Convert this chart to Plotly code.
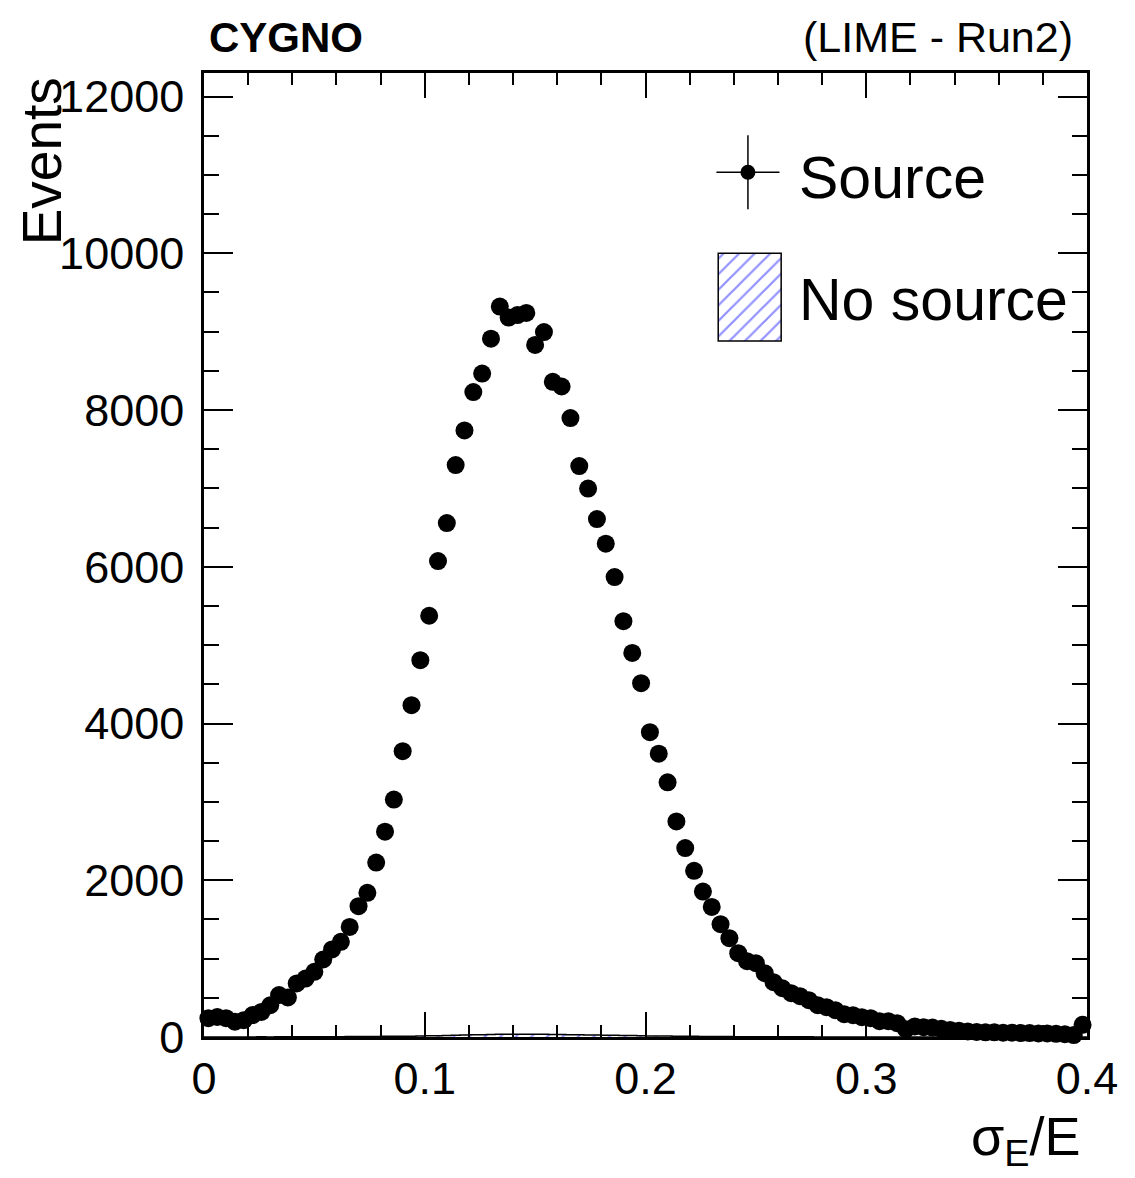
import numpy as np
import plotly.graph_objects as go

# ---------------- data ----------------
X_MIN, X_MAX, N_BINS = 0.0, 0.4, 100

source_counts = [
    240, 255, 240, 195, 215, 280, 320, 405, 535, 505,
    683, 746, 831, 989, 1117, 1214, 1405, 1669, 1839, 2225,
    2620, 3030, 3647, 4234, 4808, 5375, 6072, 6557, 7297, 7740,
    8229, 8465, 8910, 9320, 9180, 9212, 9238, 8830, 8995, 8360,
    8300, 7897, 7284, 6998, 6608, 6295, 5868, 5306, 4900, 4514,
    3889, 3615, 3250, 2750, 2411, 2120, 1855, 1659, 1440, 1261,
    1070, 967, 942, 814, 699, 622, 559, 521, 470, 406,
    380, 342, 291, 278, 253, 240, 202, 202, 176, 100,
    135, 125, 120, 105, 90, 80, 70, 65, 60, 60,
    55, 55, 50, 50, 45, 45, 40, 35, 25, 155,
]

nosource_counts = [
    0, 1, 0, 1, 1, 1, 2, 1, 2, 2,
    3, 2, 3, 3, 4, 4, 5, 5, 6, 7,
    8, 9, 10, 11, 13, 15, 17, 19, 22, 25,
    28, 30, 32, 34, 35, 36, 35, 36, 34, 33,
    31, 30, 28, 26, 25, 23, 21, 19, 18, 16,
    14, 13, 12, 10, 9, 8, 7, 6, 5, 5,
    4, 4, 3, 3, 3, 2, 2, 2, 2, 1,
    1, 1, 1, 1, 1, 1, 0, 1, 0, 0,
    0, 0, 0, 0, 0, 0, 0, 0, 0, 0,
    0, 0, 0, 0, 0, 0, 0, 0, 0, 0,
]

x_tick_vals = [0, 0.1, 0.2, 0.3, 0.4]
x_tick_text = ["0", "0.1", "0.2", "0.3", "0.4"]
y_tick_vals = [0, 2000, 4000, 6000, 8000, 10000, 12000]
y_tick_text = ["0", "2000", "4000", "6000", "8000", "10000", "12000"]

legend_labels = ["Source", "No source"]
title_left = "CYGNO"
title_right = "(LIME - Run2)"
x_title = "σ<sub>E</sub>/E"
y_title = "Events"

# ---------------- derived ----------------
bw = (X_MAX - X_MIN) / N_BINS
edges = np.linspace(X_MIN, X_MAX, N_BINS + 1)
centers = 0.5 * (edges[:-1] + edges[1:])
src = np.array(source_counts, dtype=float)
nos = np.array(nosource_counts, dtype=float)

FONT = "Liberation Sans, Arial, Helvetica, sans-serif"
HATCH = "#2020ff"

fig = go.Figure()

# No-source histogram (hatched)
fig.add_trace(go.Scatter(
    x=edges, y=np.append(nos, nos[-1]),
    mode="lines", line=dict(color="black", width=1.5, shape="hv"),
    fill="tozeroy",
    fillpattern=dict(shape="/", fgcolor=HATCH, bgcolor="white", size=11, solidity=0.2),
    fillcolor="white",
    showlegend=False, hoverinfo="skip",
))

# Source data points
fig.add_trace(go.Scatter(
    x=centers, y=src, mode="markers",
    marker=dict(color="black", size=18, line=dict(width=0)),
    error_y=dict(type="data", array=np.sqrt(src), width=0, thickness=1.5, color="black"),
    error_x=dict(type="constant", value=bw / 2, width=0, thickness=1.5, color="black"),
    cliponaxis=False, showlegend=False,
))

# ---- hand-drawn legend on an overlay axis (fractions of plot area) ----
fig.add_trace(go.Scatter(
    x=[0.616], y=[0.897], mode="markers", xaxis="x2", yaxis="y2",
    marker=dict(color="black", size=15),
    error_x=dict(type="data", array=[0.0357], width=0, thickness=1.5, color="black"),
    error_y=dict(type="data", array=[0.0384], width=0, thickness=1.5, color="black"),
    showlegend=False, hoverinfo="skip", cliponaxis=False,
))
fig.add_trace(go.Bar(
    x=[0.618], y=[0.091], base=[0.722], width=[0.0713], xaxis="x2", yaxis="y2",
    marker=dict(color="white",
                pattern=dict(shape="/", fgcolor=HATCH, bgcolor="white", size=11, solidity=0.2),
                line=dict(color="black", width=1.5)),
    showlegend=False, hoverinfo="skip",
))

ann = []
ann.append(dict(text=legend_labels[0], x=0.6716, y=0.891, xref="paper", yref="paper",
                xanchor="left", yanchor="middle", showarrow=False,
                font=dict(family=FONT, size=59, color="black")))
ann.append(dict(text=legend_labels[1], x=0.6716, y=0.7645, xref="paper", yref="paper",
                xanchor="left", yanchor="middle", showarrow=False,
                font=dict(family=FONT, size=59, color="black")))
ann.append(dict(text="<b>" + title_left + "</b>", x=0.0034, y=1.037, xref="paper", yref="paper",
                xanchor="left", yanchor="middle", showarrow=False,
                font=dict(family=FONT, size=42, color="black")))
ann.append(dict(text=title_right, x=0.986, y=1.037, xref="paper", yref="paper",
                xanchor="right", yanchor="middle", showarrow=False,
                font=dict(family=FONT, size=43, color="black")))
ann.append(dict(text=x_title, x=0.9955, y=-0.107, xref="paper", yref="paper",
                xanchor="right", yanchor="middle", showarrow=False,
                font=dict(family=FONT, size=54, color="black")))
ann.append(dict(text=y_title, x=-0.183, y=0.998, xref="paper", yref="paper",
                xanchor="center", yanchor="top", textangle=-90, showarrow=False,
                font=dict(family=FONT, size=55, color="black")))

axis_common = dict(
    showgrid=False, zeroline=False, showline=True, linecolor="black", linewidth=2.5,
    mirror="allticks", ticks="inside", tickcolor="black", tickwidth=2,
    tickfont=dict(family=FONT, size=45, color="black"),
)

fig.update_layout(
    width=1135, height=1178,
    margin=dict(l=204, r=48, t=73, b=141, autoexpand=False),
    paper_bgcolor="white", plot_bgcolor="white",
    showlegend=False, annotations=ann,
    xaxis=dict(range=[X_MIN, X_MAX], tickvals=x_tick_vals, ticktext=x_tick_text, ticklen=25,
               minor=dict(dtick=0.02, tick0=0, ticklen=12, tickwidth=2, tickcolor="black", ticks="inside"),
               **axis_common),
    yaxis=dict(range=[0, 12300], tickvals=y_tick_vals, ticktext=y_tick_text, ticklen=29,
               minor=dict(dtick=500, tick0=0, ticklen=15, tickwidth=2, tickcolor="black", ticks="inside"),
               ticklabelstandoff=8,
               **axis_common),
    xaxis2=dict(overlaying="x", range=[0, 1], visible=False, anchor="y2"),
    yaxis2=dict(overlaying="y", range=[0, 1], visible=False, anchor="x2"),
)

fig.write_html("out.html")
